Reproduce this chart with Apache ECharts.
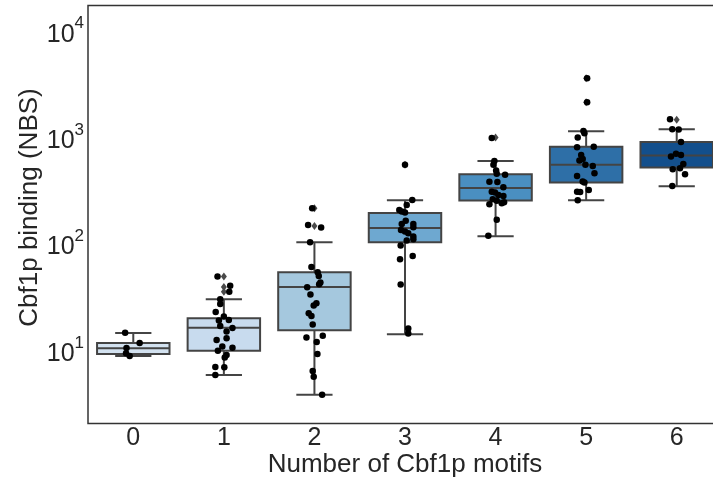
<!DOCTYPE html>
<html>
<head>
<meta charset="utf-8">
<script src="https://cdn.jsdelivr.net/npm/echarts@6/dist/echarts.min.js"></script>
<style>
html,body{margin:0;padding:0;background:#fff;}
#chart{width:713px;height:480px;}
</style>
</head>
<body>
<div id="chart"></div>
<script>
// ---- data ----
const categories = ['0', '1', '2', '3', '4', '5', '6'];
const whiskerLow  = [8.41, 5.57, 3.64, 13.45, 112.1, 244.5, 331];
const q1          = [8.78, 9.43, 14.7, 98.5, 243.4, 358, 495];
const median      = [9.94, 15.5, 37.4, 134.2, 319, 525, 642];
const q3          = [11.1, 19.0, 51.4, 185.7, 429, 775, 863];
const whiskerHigh = [13.8, 28.7, 98.5, 244.5, 572, 1088, 1137];
const fliers = [[], [46.8, 37.4, 33.8], [205, 140], [525], [950], [3426, 2037], [1390]];
const boxColors = ['#d3e2f0', '#c8dbee', '#a5c8de', '#6ea8d0', '#4a8fc1', '#2e6fa7', '#134f8c'];

const pointValues = [
  [13.9, 11.1, 10.0, 8.91, 8.41],
  [46.8, 38.3, 33.8, 28.7, 25.9, 21.8, 19.7, 18.1, 18.3, 16.1, 15.4, 14.3, 11.9, 12.3, 10.3, 10.06, 9.43, 8.6, 8.14, 6.63, 6.6, 5.57],
  [205.6, 143.2, 135.1, 98.5, 57.7, 51.4, 47.5, 41.1, 39.7, 37.2, 31.7, 26.3, 25.0, 21.2, 20.0, 16.6, 12.5, 13.0, 11.4, 8.78, 6.08, 5.37, 3.64],
  [525, 246, 220.8, 198, 191, 187, 157, 146.4, 146, 128.5, 123.9, 136.3, 119.7, 111.2, 105.1, 102, 91.5, 68.2, 73.2, 39.4, 15.2, 13.7],
  [940, 572, 525, 464, 432, 423, 365, 362, 324, 294, 288, 274, 268, 250, 242, 224, 229, 234, 160, 113],
  [3426, 2037, 1095, 1042, 947, 769, 775, 651, 597, 576, 525, 513, 438, 413, 366, 358, 305, 294, 292, 244.5],
  [1410, 1137, 1130, 863, 628, 666, 651, 478, 489, 536, 429, 333]
];
const pointJitter = [
  [-0.09, 0.07, -0.075, -0.08, -0.04],
  [-0.07, 0.07, 0.06, -0.04, -0.04, -0.09, 0, -0.055, 0.055, -0.04, 0.095, 0.03, -0.08, 0.03, -0.017, 0.095, -0.066, 0.03, 0.01, -0.094, 0.005, -0.094],
  [-0.025, -0.07, 0.074, -0.048, -0.033, 0.036, 0.048, 0.066, 0.052, -0.08, -0.044, 0.022, -0.008, -0.063, -0.033, -0.019, -0.088, 0.092, 0.025, 0.033, -0.019, -0.008, 0.085],
  [0, 0.08, 0.019, -0.063, -0.036, 0, 0.008, -0.036, 0.092, -0.044, 0, 0.092, 0.036, 0.092, 0.092, 0.019, -0.048, -0.055, 0.085, -0.048, 0.036, 0.036],
  [-0.042, -0.013, -0.024, 0.006, 0.013, 0.105, -0.068, 0.02, 0.086, -0.042, -0.006, 0.031, 0.086, -0.031, 0.013, -0.068, 0.068, 0.094, 0.013, -0.08],
  [0.011, 0.011, -0.03, -0.019, -0.093, -0.1, 0.084, -0.055, -0.038, -0.074, -0.008, 0.073, 0.092, -0.1, -0.038, -0.019, 0.029, -0.1, -0.066, -0.093],
  [-0.074, -0.049, 0.022, 0.047, -0.063, -0.008, 0.047, -0.044, 0.036, 0.073, 0.092, -0.049]
];

// ---- build series data ----
const boxData = categories.map((c, i) => [i, whiskerLow[i], q1[i], median[i], q3[i], whiskerHigh[i]]);
const flierData = [];
fliers.forEach((arr, i) => arr.forEach(v => flierData.push([i, v])));
const pointData = [];
pointValues.forEach((arr, i) => arr.forEach((v, k) => pointData.push([i + pointJitter[i][k], v])));

const FONT = 'Liberation Sans, Arial, sans-serif';
const TEXT = '#262626';
const EDGE = '#444444';

function renderBox(params, api) {
  const i = api.value(0);
  const lo = api.coord([i, api.value(1)]);
  const b1 = api.coord([i, api.value(2)]);
  const md = api.coord([i, api.value(3)]);
  const b3 = api.coord([i, api.value(4)]);
  const hi = api.coord([i, api.value(5)]);
  const band = api.coord([1, api.value(3)])[0] - api.coord([0, api.value(3)])[0];
  const w = band * 0.8;
  const x = md[0];
  const ls = {stroke: EDGE, lineWidth: 2, fill: null};
  return {
    type: 'group',
    children: [
      {type: 'line', shape: {x1: x, y1: b3[1], x2: x, y2: hi[1]}, style: ls},
      {type: 'line', shape: {x1: x, y1: b1[1], x2: x, y2: lo[1]}, style: ls},
      {type: 'line', shape: {x1: x - w / 4, y1: hi[1], x2: x + w / 4, y2: hi[1]}, style: ls},
      {type: 'line', shape: {x1: x - w / 4, y1: lo[1], x2: x + w / 4, y2: lo[1]}, style: ls},
      {type: 'rect', shape: {x: x - w / 2, y: b3[1], width: w, height: b1[1] - b3[1]},
        style: {fill: boxColors[i], stroke: EDGE, lineWidth: 2}},
      {type: 'line', shape: {x1: x - w / 2, y1: md[1], x2: x + w / 2, y2: md[1]}, style: ls}
    ]
  };
}

const chart = echarts.init(document.getElementById('chart'), null, {renderer: 'canvas'});
chart.setOption({
  animation: false,
  backgroundColor: '#fff',
  grid: {left: 88, width: 634, top: 5.5, height: 418, outerBoundsMode: 'none', containLabel: false,
    show: true, borderColor: '#333', borderWidth: 1.5, backgroundColor: 'transparent'},
  xAxis: [{
    type: 'category',
    data: categories,
    boundaryGap: true,
    axisLine: {show: false},
    axisTick: {show: false},
    splitLine: {show: false},
    axisLabel: {fontSize: 25, color: TEXT, fontFamily: FONT, margin: 2},
    name: 'Number of Cbf1p motifs',
    nameLocation: 'middle',
    nameGap: 28,
    nameMoveOverlap: false,
    nameTextStyle: {fontSize: 26, color: TEXT, fontFamily: FONT}
  }, {
    type: 'value', min: -0.5, max: 6.5, show: false
  }],
  yAxis: {
    type: 'log',
    logBase: 10,
    min: 1.95,
    max: 16500,
    axisLine: {show: false},
    axisTick: {show: false},
    splitLine: {show: false},
    axisLabel: {
      showMinLabel: false,
      showMaxLabel: false,
      margin: 4,
      padding: [12, 0, 0, 0],
      formatter: function (v) {
        const e = Math.log10(v);
        const r = Math.round(e);
        if (Math.abs(e - r) > 1e-6) return '';
        return '{b|10}{s|' + r + '}';
      },
      rich: {
        b: {fontSize: 25, color: TEXT, fontFamily: FONT},
        s: {fontSize: 17, color: TEXT, fontFamily: FONT, padding: [0, 0, 22, 0]}
      }
    },
    name: 'Cbf1p binding (NBS)',
    nameLocation: 'middle',
    nameGap: 45,
    nameMoveOverlap: false,
    nameTextStyle: {fontSize: 26, color: TEXT, fontFamily: FONT, padding: [0, 0, 0, 14]}
  },
  series: [{
    type: 'custom',
    xAxisIndex: 0,
    renderItem: renderBox,
    encode: {x: 0, y: [1, 2, 3, 4, 5]},
    data: boxData,
    z: 2
  }, {
    type: 'scatter',
    xAxisIndex: 0,
    symbol: 'diamond',
    symbolSize: [6, 8],
    itemStyle: {color: '#4a4a4a', opacity: 1},
    data: flierData,
    z: 3
  }, {
    type: 'scatter',
    xAxisIndex: 1,
    symbol: 'circle',
    symbolSize: 6.5,
    itemStyle: {color: '#000', opacity: 1},
    data: pointData,
    z: 4
  }]
});
</script>
</body>
</html>
